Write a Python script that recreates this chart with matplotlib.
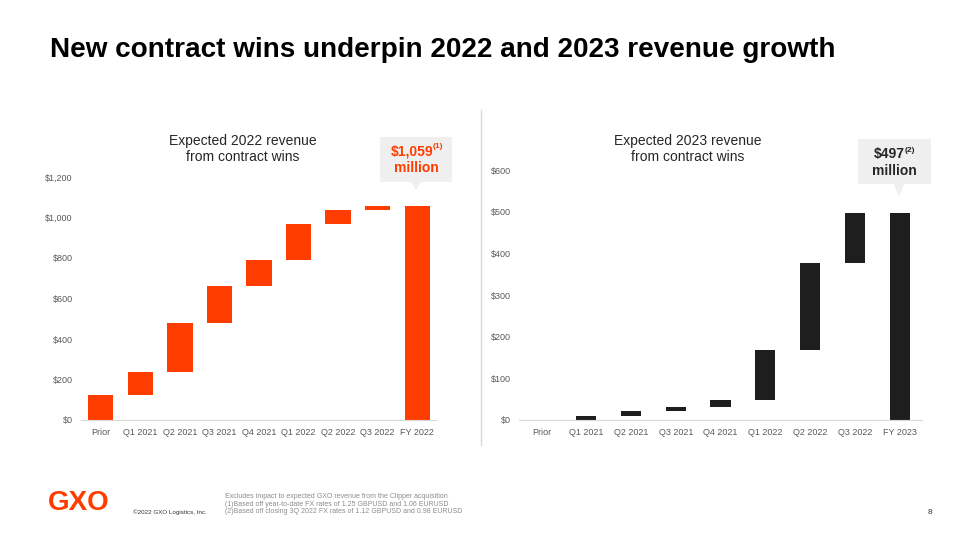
import matplotlib.pyplot as plt
from matplotlib.patches import Polygon
from matplotlib.lines import Line2D

plt.rcParams['font.family'] = ['Liberation Sans', 'DejaVu Sans']

# waterfall data (USD millions)
cats_2022 = ["Prior", "Q1 2021", "Q2 2021", "Q3 2021", "Q4 2021", "Q1 2022", "Q2 2022", "Q3 2022", "FY 2022"]
steps_2022 = [123, 112, 242, 186, 127, 180, 67, 22]
total_2022 = 1059

cats_2023 = ["Prior", "Q1 2021", "Q2 2021", "Q3 2021", "Q4 2021", "Q1 2022", "Q2 2022", "Q3 2022", "FY 2023"]
steps_2023 = [0, 10, 11, 10, 17, 119, 209, 121]
total_2023 = 497

ORANGE = "#ff3c00"
DARK = "#1e1e1e"
GRAY = "#595959"

W, H = 960, 540
fig = plt.figure(figsize=(9.6, 5.4), dpi=100)


def px(x, y):
    # pixel coords (top-left origin) -> figure fraction
    return x / W, 1 - y / H


def add_ax(x0, y0, x1, y1):
    l, t = px(x0, y0)
    r, b = px(x1, y1)
    return fig.add_axes([l, b, r - l, t - b])


def waterfall(ax, cats, steps, total, color, width, ymax, ystep):
    base = 0
    for i, s in enumerate(steps):
        if s > 0:
            ax.bar(i, s, bottom=base, width=width, color=color, linewidth=0)
        base += s
    ax.bar(len(steps), total, width=width, color=color, linewidth=0)
    ax.set_xlim(-0.5, len(cats) - 0.5)
    ax.set_ylim(0, ymax)
    ax.set_xticks(range(len(cats)))
    ax.set_xticklabels(cats, fontsize=6.5, color=GRAY)
    yt = list(range(0, ymax + 1, ystep))
    ax.set_yticks(yt)
    ax.set_yticklabels(["\\$" + format(v, ",") for v in yt], fontsize=6.5, color=GRAY)
    ax.tick_params(length=0, pad=6)
    for sp in ["top", "right", "left"]:
        ax.spines[sp].set_visible(False)
    ax.spines["bottom"].set_color("#d9d9d9")
    ax.spines["bottom"].set_linewidth(0.8)
    ax.patch.set_alpha(0)


def callout(x0, y0, x1, y1, tipx, tipy):
    pts = [px(x0, y0), px(x1, y0), px(x1, y1), px(tipx + 5, y1),
           px(tipx, tipy), px(tipx - 5, y1), px(x0, y1)]
    fig.patches.append(Polygon(pts, closed=True, transform=fig.transFigure,
                               facecolor="#efefef", edgecolor="none", zorder=0))


# title
fig.text(*px(50, 50), "New contract wins underpin 2022 and 2023 revenue growth",
         fontsize=20.1, fontweight="bold", color="black", va="center", ha="left")

# left chart
ax1 = add_ax(81, 177, 437, 420)
waterfall(ax1, cats_2022, steps_2022, total_2022, ORANGE, 0.64, 1200, 200)
fig.text(*px(243, 149), "Expected 2022 revenue\nfrom contract wins", fontsize=10,
         ha="center", va="center", color="#262626", linespacing=1.1)
callout(380, 137, 452, 182, 416, 190)
fig.text(*px(412, 151), "\\$1,059", fontsize=10, fontweight="bold", color=ORANGE, ha="center", va="center")
fig.text(*px(433, 147), "(1)", fontsize=6, fontweight="bold", color=ORANGE, ha="left", va="center")
fig.text(*px(416, 168), "million", fontsize=10, fontweight="bold", color=ORANGE, ha="center", va="center")

# divider
fig.add_artist(Line2D([481 / W, 481 / W], [1 - 110 / H, 1 - 445 / H], transform=fig.transFigure,
                      color="#d9d9d9", linewidth=1))

# right chart
ax2 = add_ax(519, 170, 922, 420)
waterfall(ax2, cats_2023, steps_2023, total_2023, DARK, 0.45, 600, 100)
fig.text(*px(688, 149), "Expected 2023 revenue\nfrom contract wins", fontsize=10,
         ha="center", va="center", color="#262626", linespacing=1.1)
callout(858, 139, 931, 184, 899, 197)
fig.text(*px(889, 154), "\\$497", fontsize=10, fontweight="bold", color="#262626", ha="center", va="center")
fig.text(*px(905, 150), "(2)", fontsize=6, fontweight="bold", color="#262626", ha="left", va="center")
fig.text(*px(894, 171), "million", fontsize=10, fontweight="bold", color="#262626", ha="center", va="center")

# footer
fig.text(*px(48, 503), "GXO", fontsize=20, fontweight="bold", color=ORANGE, ha="left", va="center")
fig.text(*px(133, 512), "\u00a92022 GXO Logistics, Inc.", fontsize=4.5, color="#333333", ha="left", va="center")
fig.text(*px(225, 504), "Excludes impact to expected GXO revenue from the Clipper acquisition\n"
         "(1)Based off year-to-date FX rates of 1.25 GBPUSD and 1.06 EURUSD\n"
         "(2)Based off closing 3Q 2022 FX rates of 1.12 GBPUSD and 0.98 EURUSD",
         fontsize=5, color="#8c8c8c", ha="left", va="center", linespacing=1.15)
fig.text(*px(930, 512), "8", fontsize=6, color="#333333", ha="center", va="center")

fig.savefig("out.png", dpi=100)
